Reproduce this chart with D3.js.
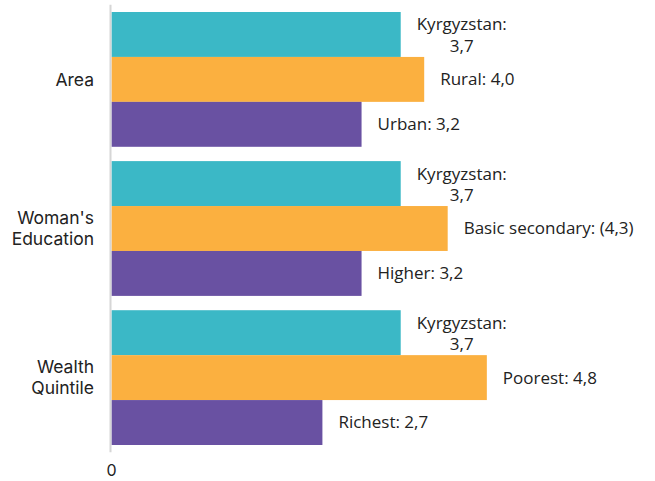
<!DOCTYPE html>
<html>
<head>
<meta charset="utf-8">
<script src="https://cdnjs.cloudflare.com/ajax/libs/d3/7.8.5/d3.min.js"></script>
<style>
  body { margin: 0; background: #fff; }
  svg { display: block; }
</style>
</head>
<body>
<svg id="svg"></svg>
<script>
/*global d3*/

// chart data
const groups = ["Area", "Woman's Education", "Wealth Quintile"];
const nationalName = "Kyrgyzstan";
const nationalValues = [3.7, 3.7, 3.7];
const highLabels = ["Rural: {v}", "Basic secondary: ({v})", "Poorest: {v}"];
const highValues = [4.0, 4.3, 4.8];
const lowLabels = ["Urban: {v}", "Higher: {v}", "Richest: {v}"];
const lowValues = [3.2, 3.2, 2.7];
const xTicks = [0];

const width = 655;
const height = 481;
const colors = ["#3bb8c6", "#fbb040", "#6951a2"];

const svg = d3.select("#svg").attr("width", width).attr("height", height);

const fmt = v => d3.format(".1f")(v).replace(".", ",");

const rows = groups.map((g, i) => ({
  group: g,
  bars: [
    {key: 0, value: nationalValues[i], lines: [nationalName + ":", fmt(nationalValues[i])]},
    {key: 1, value: highValues[i], lines: [highLabels[i].replace("{v}", fmt(highValues[i]))]},
    {key: 2, value: lowValues[i], lines: [lowLabels[i].replace("{v}", fmt(lowValues[i]))]}
  ]
}));

const x0 = 111;
const xScale = d3.scaleLinear().domain([0, 5]).range([x0, x0 + 5 * 78.3]);

const yScale = d3.scaleBand()
  .domain(groups)
  .range([4.85, 452.15])
  .paddingInner(0.096)
  .paddingOuter(0.048);

const subScale = d3.scaleBand()
  .domain([0, 1, 2])
  .range([0, yScale.bandwidth()]);

// vertical baseline
svg.append("line")
  .attr("x1", xScale(0) - 0.5).attr("x2", xScale(0) - 0.5)
  .attr("y1", yScale.range()[0]).attr("y2", yScale.range()[1])
  .attr("stroke", "#d6d6d6")
  .attr("stroke-width", 2);

// x axis: only the zero tick
const xAxisG = svg.append("g")
  .attr("transform", `translate(0,${462})`)
  .call(d3.axisBottom(xScale).tickValues(xTicks).tickSize(0).tickPadding(3).tickFormat(d3.format("d")));
xAxisG.select(".domain").remove();
xAxisG.selectAll("text")
  .attr("font-family", "Inter, sans-serif")
  .attr("font-size", 16)
  .attr("fill", "#222");

// group labels
const catG = svg.append("g");
groups.forEach(g => {
  const words = g.split(" ");
  const cy = yScale(g) + yScale.bandwidth() / 2;
  const lh = 21;
  const t = catG.append("text")
    .attr("text-anchor", "end")
    .attr("font-family", "Inter, sans-serif")
    .attr("font-size", 17.5)
    .attr("fill", "#222");
  words.forEach((w, i) => {
    t.append("tspan")
      .attr("x", 94)
      .attr("y", cy + (i - (words.length - 1) / 2) * lh)
      .attr("dy", "0.35em")
      .text(w);
  });
});

// bars
const groupG = svg.selectAll(".grp").data(rows)
  .enter().append("g")
  .attr("class", "grp")
  .attr("transform", d => `translate(0,${yScale(d.group)})`);

groupG.selectAll("rect").data(d => d.bars)
  .enter().append("rect")
  .attr("x", xScale(0) + 0.7)
  .attr("y", d => subScale(d.key))
  .attr("width", d => xScale(d.value) - xScale(0) - 0.7)
  .attr("height", subScale.bandwidth())
  .attr("fill", d => colors[d.key]);

// value labels
groupG.each(function(row) {
  const g = d3.select(this);
  row.bars.forEach(b => {
    const cy = subScale(b.key) + subScale.bandwidth() / 2;
    const lx = xScale(b.value) + 16;
    const t = g.append("text")
      .attr("font-family", "'Open Sans', sans-serif")
      .attr("font-size", 17)
      .attr("fill", "#222");
    if (b.lines.length === 1) {
      t.attr("x", lx).attr("y", cy).attr("dy", "0.35em").text(b.lines[0]);
    } else {
      const first = t.append("tspan").attr("x", lx).attr("y", cy - 10).attr("dy", "0.35em").text(b.lines[0]);
      const w = first.node().getComputedTextLength();
      t.append("tspan")
        .attr("x", lx + w / 2)
        .attr("y", cy + 11.5)
        .attr("dy", "0.35em")
        .attr("text-anchor", "middle")
        .text(b.lines[1]);
    }
  });
});
</script>
</body>
</html>
